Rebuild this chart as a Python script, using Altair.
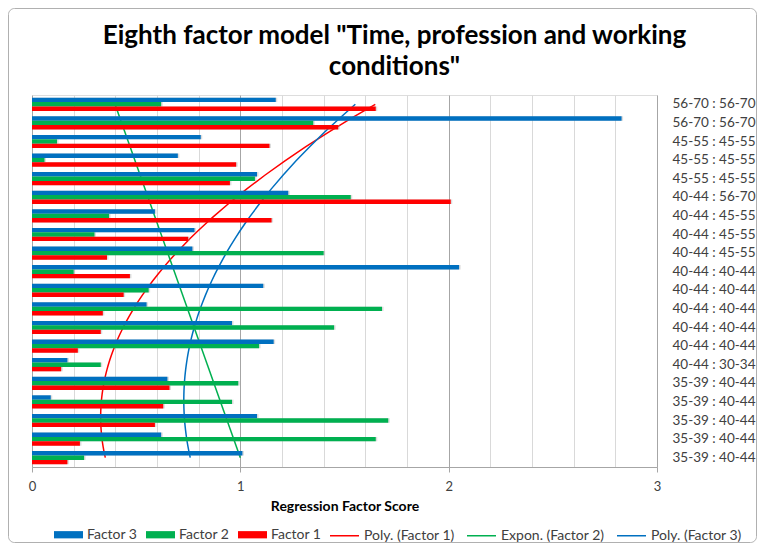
import altair as alt
import pandas as pd

# ---- data (top row first, as shown in the chart) ----
labels = [
    "56-70 : 56-70", "56-70 : 56-70", "45-55 : 45-55", "45-55 : 45-55",
    "45-55 : 45-55", "40-44 : 56-70", "40-44 : 45-55", "40-44 : 45-55",
    "40-44 : 45-55", "40-44 : 40-44", "40-44 : 40-44", "40-44 : 40-44",
    "40-44 : 40-44", "40-44 : 40-44", "40-44 : 30-34", "35-39 : 40-44",
    "35-39 : 40-44", "35-39 : 40-44", "35-39 : 40-44", "35-39 : 40-44",
]
factor3 = [1.17, 2.83, 0.81, 0.70, 1.08, 1.23, 0.59, 0.78, 0.77, 2.05,
           1.11, 0.55, 0.96, 1.16, 0.17, 0.65, 0.09, 1.08, 0.62, 1.01]
factor2 = [0.62, 1.35, 0.12, 0.06, 1.07, 1.53, 0.37, 0.30, 1.40, 0.20,
           0.56, 1.68, 1.45, 1.09, 0.33, 0.99, 0.96, 1.71, 1.65, 0.25]
factor1 = [1.65, 1.47, 1.14, 0.98, 0.95, 2.01, 1.15, 0.75, 0.36, 0.47,
           0.44, 0.34, 0.33, 0.22, 0.14, 0.66, 0.63, 0.59, 0.23, 0.17]

series_names = ["Factor 3", "Factor 2", "Factor 1"]
series_colors = ["#0070C0", "#00B050", "#FF0000"]
trend_names = ["Poly. (Factor 1)", "Expon. (Factor 2)", "Poly. (Factor 3)"]
trend_colors = ["#FF0000", "#00B050", "#0070C0"]
x_ticks = [round(i * 0.1, 1) for i in range(31)]

n = len(labels)
rows = []
for i, lab in enumerate(labels):
    idx = n - i  # Excel category index: 1 = bottom row
    for name, vals in zip(series_names, [factor3, factor2, factor1]):
        rows.append({"idx": idx, "label": lab, "series": name, "value": vals[i]})
df = pd.DataFrame(rows)

FONT = "Lato"
GRID_MAJOR = "#a6a6a6"
GRID_MINOR = "#d9d9d9"

label_by_idx = [""] + labels[::-1]
label_expr = "[" + ",".join('"%s"' % s for s in label_by_idx) + "][datum.value]"

major_test = "round(datum.value*10) % 5 === 0"

x_enc = alt.X(
    "value:Q",
    scale=alt.Scale(domain=[0, 3], nice=False, zero=True),
    axis=alt.Axis(
        values=x_ticks,
        title="Regression Factor Score",
        titleFont=FONT, titleFontSize=14, titleFontWeight="bold",
        titleColor="#000000", titlePadding=6,
        labelExpr=major_test + " ? replace(format(datum.value, '~g'), '.', ',') : ''",
        labelFont=FONT, labelFontSize=13, labelColor="#404040",
        labelOverlap=False, labelFlush=False, labelPadding=8,
        tickSize=5, tickColor=GRID_MAJOR,
        tickOpacity={"condition": {"test": major_test, "value": 1}, "value": 0},
        grid=True,
        gridColor={"condition": {"test": major_test, "value": GRID_MAJOR}, "value": GRID_MINOR},
        domainColor=GRID_MAJOR,
    ),
)

base = alt.Chart(df)

y_band = alt.Y(
    "idx:O",
    sort="descending",
    scale=alt.Scale(paddingInner=0.29, paddingOuter=0.145),
    axis=alt.Axis(
        orient="right", title=None, ticks=False, domain=False, grid=False,
        labelExpr=label_expr, labelFont=FONT, labelFontSize=13.5,
        labelColor="#404040", labelPadding=15, labelOverlap=False,
    ),
)
y_off = alt.YOffset("series:N", sort=series_names,
                    scale=alt.Scale(paddingInner=0, paddingOuter=0))

shadow = base.mark_bar(color="#9a9a9a", opacity=0.35, xOffset=1.5, yOffset=1.5).encode(
    x=alt.X("value:Q"), y=y_band, yOffset=y_off,
)

bars = base.mark_bar().encode(
    x=x_enc,
    y=y_band,
    yOffset=y_off,
    color=alt.Color(
        "series:N",
        scale=alt.Scale(domain=series_names, range=series_colors),
        legend=alt.Legend(
            orient="none", legendX=22, legendY=425, direction="horizontal",
            title=None, symbolType="M-1,-0.25H1V0.25H-1Z", symbolSize=841,
            symbolStrokeWidth=0, labelFont=FONT, labelFontSize=14,
            labelColor="#404040", labelOffset=4, columnPadding=8,
        ),
    ),
)

y_lin_axis = alt.Axis(
    orient="left", title=None, labels=False,
    values=[0.5 + 0.5 * k for k in range(2 * n + 1)],
    tickSize=5, tickColor=GRID_MAJOR, domainColor=GRID_MAJOR,
    grid=True, gridColor="#bfbfbf",
    gridOpacity={"condition": {"test": "datum.value % 1 === 0", "value": 0}, "value": 1},
)
y_lin_scale = alt.Scale(domain=[0.5, n + 0.5], nice=False, zero=False)

stroke_scale = alt.Scale(domain=trend_names, range=trend_colors)
stroke_legend = alt.Legend(
    orient="none", legendX=297, legendY=425, direction="horizontal",
    title=None, symbolType="stroke", symbolSize=841, symbolStrokeWidth=1.5,
    labelFont=FONT, labelFontSize=14, labelColor="#404040",
    labelOffset=4, columnPadding=9,
)


def line_enc(first):
    return dict(
        x=alt.X("value:Q"),
        y=alt.Y("idx:Q", scale=y_lin_scale, axis=y_lin_axis if first else None),
        stroke=alt.Stroke("trend:N", scale=stroke_scale, legend=stroke_legend),
        order=alt.Order("idx:Q"),
    )


# Polynomial (order 2) trendlines, as in the spreadsheet
def poly_trend(factor, name, first=False):
    return (
        base.transform_filter(alt.datum.series == factor)
        .transform_regression("idx", "value", method="poly", order=2)
        .transform_calculate(trend="'" + name + "'")
        .mark_line(strokeWidth=1.5)
        .encode(**line_enc(first))
    )


# Exponential trendline: least squares on ln(value), as the spreadsheet does
def exp_trend(factor, name):
    return (
        base.transform_filter(alt.datum.series == factor)
        .transform_calculate(logv="log(datum.value)")
        .transform_regression("idx", "logv", method="linear")
        .transform_calculate(value="exp(datum.logv)", trend="'" + name + "'")
        .mark_line(strokeWidth=1.5)
        .encode(**line_enc(False))
    )


lines = alt.layer(
    poly_trend("Factor 1", "Poly. (Factor 1)", first=True),
    exp_trend("Factor 2", "Expon. (Factor 2)"),
    poly_trend("Factor 3", "Poly. (Factor 3)"),
)

border = alt.Chart(pd.DataFrame({"a": [0]})).mark_rect(
    fillOpacity=0, stroke="#b0b0b0", strokeWidth=1, cornerRadius=6
).encode(
    x=alt.value(-23.5), x2=alt.value(724.5), y=alt.value(-86.5), y2=alt.value(447.5)
)

chart = (
    alt.layer(lines, alt.layer(shadow, bars), border)
    .resolve_scale(y="independent")
    .properties(
        width=625, height=372,
        padding={"left": 24, "top": 87, "right": 100, "bottom": 76},
        autosize=alt.AutoSizeParams(type="none"),
        title=alt.TitleParams(
            text=['Eighth factor model "Time, profession and working', 'conditions"'],
            font=FONT, fontSize=26, fontWeight="bold", color="#000000",
            anchor="middle", frame="group", dx=50, dy=88, offset=16, lineHeight=31,
        ),
    )
    .configure_view(stroke=None)
    .configure(background="white")
)

chart.save("out.html", embed_options={"renderer": "svg", "actions": False})
